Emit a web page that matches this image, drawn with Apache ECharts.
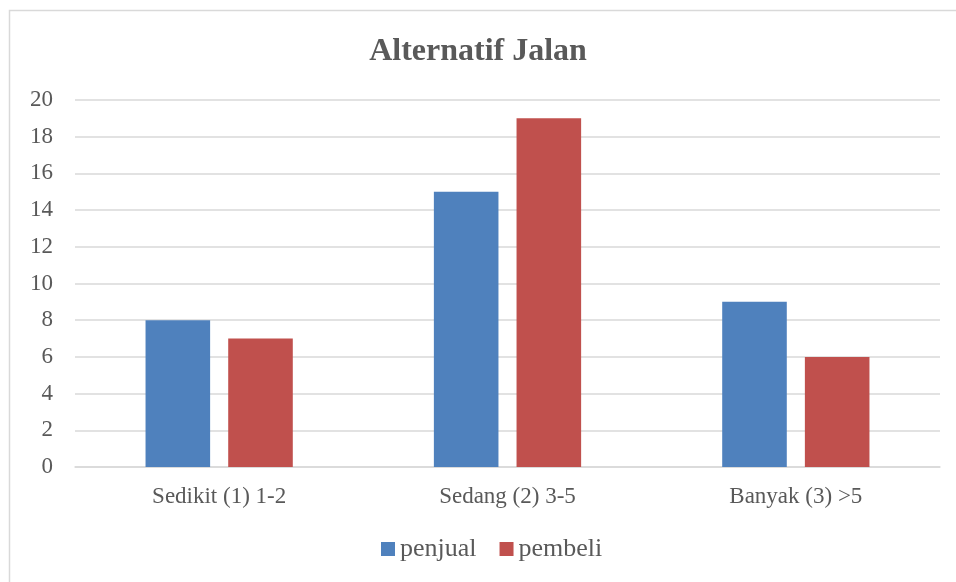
<!DOCTYPE html>
<html><head><meta charset="utf-8">
<script src="https://cdn.jsdelivr.net/npm/echarts@6/dist/echarts.min.js"></script>
<style>html,body{margin:0;padding:0;background:#fff}#c{width:956px;height:582px}</style>
</head><body><div id="c"></div>
<script>
const categories = ["Sedikit (1) 1-2", "Sedang (2) 3-5", "Banyak (3) >5"];
const penjual = [8, 15, 9];
const pembeli = [7, 19, 6];
const yTicks = [0, 2, 4, 6, 8, 10, 12, 14, 16, 18, 20];

const chart = echarts.init(document.getElementById('c'), null, {renderer: 'canvas'});
const serif = '"Liberation Serif", "DejaVu Serif", serif';
chart.setOption({
  animation: false,
  backgroundColor: '#fff',
  graphic: [{
    type: 'rect', shape: {x: 9.5, y: 10.5, width: 1000, height: 1000},
    style: {fill: 'none', stroke: '#d9d9d9', lineWidth: 1.5}, silent: true
  }],
  title: {
    text: 'Alternatif Jalan', left: 'center', top: 31,
    textStyle: {fontFamily: serif, fontWeight: 'bold', fontSize: 32, color: '#595959'}
  },
  legend: {
    bottom: 20, left: 381, padding: 0, itemWidth: 14, itemHeight: 14, itemGap: 23,
    icon: 'rect',
    textStyle: {fontFamily: serif, fontSize: 26, color: '#595959'},
    data: ['penjual', 'pembeli']
  },
  grid: {left: 75, right: 16, top: 100, bottom: 115, containLabel: false},
  xAxis: {
    type: 'category', data: categories,
    axisLine: {lineStyle: {color: '#d9d9d9', width: 1.5}},
    axisTick: {show: false},
    axisLabel: {fontFamily: serif, fontSize: 23, color: '#595959', margin: 18}
  },
  yAxis: {
    type: 'value', min: yTicks[0], max: yTicks[yTicks.length - 1], interval: 2,
    axisLine: {show: false}, axisTick: {show: false},
    splitLine: {lineStyle: {color: '#d9d9d9', width: 1.5}},
    axisLabel: {fontFamily: serif, fontSize: 23, color: '#595959', margin: 22}
  },
  series: [
    {name: 'penjual', type: 'bar', data: penjual, barWidth: '22.4%', barGap: '28%',
     itemStyle: {color: '#4F81BD'}},
    {name: 'pembeli', type: 'bar', data: pembeli, barWidth: '22.4%',
     itemStyle: {color: '#C0504D'}}
  ]
});
</script></body></html>
